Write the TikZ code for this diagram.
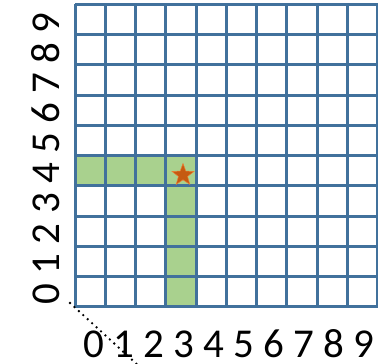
\documentclass[tikz,border=0pt]{standalone}
\usepackage{fontspec}
\setmainfont{Carlito}
\usetikzlibrary{shapes.geometric}
\definecolor{gridblue}{HTML}{41719C}
\definecolor{cellgreen}{HTML}{A9D18E}
\definecolor{starorange}{HTML}{C55A11}
\definecolor{starlight}{HTML}{ED7D31}
\tikzset{
  gridline/.style={draw=gridblue, line width=3pt},
  greencell/.style={fill=cellgreen},
  axislabel/.style={inner sep=0pt, font=\fontsize{41}{41}\selectfont},
  dotline/.style={line width=2.6pt, line cap=round, dash pattern=on 0pt off 6pt, black},
}
\begin{document}
\begin{tikzpicture}[x=1pt,y=1pt]
\useasboundingbox (0,0) rectangle (378,364);
\def\c{30.25}
% green cells
\fill[greencell] (75,{57+4*\c}) rectangle ({75+4*\c},{57+5*\c});
\fill[greencell] ({75+3*\c},57) rectangle ({75+4*\c},{57+5*\c});
% grid
\foreach \i in {0,...,10} {
  \draw[gridline] ({75+\i*\c},57) -- ({75+\i*\c},{57+10*\c});
  \draw[gridline] (75,{57+\i*\c}) -- ({75+10*\c},{57+\i*\c});
}
% star
\node[star, star points=5, star point ratio=2.4, minimum size=23pt, inner sep=0pt,
      fill=starorange, draw=starlight, line width=0.5pt] (mark) at (183,189) {};
% labels
\node[axislabel, anchor=base] (xlab) at (229,6.5) {0 1 2 3 4 5 6 7 8 9};
\node[axislabel, rotate=90, anchor=base] (ylab) at (59,205.5) {0 1 2 3 4 5 6 7 8 9};
% dotted diagonal
\coordinate (dstart) at (70,61);
\coordinate (dend) at (141,-4);
\begin{scope}
\clip (0,0) rectangle (378,364);
\draw[dotline] (dstart) -- (dend);
\end{scope}
\end{tikzpicture}
\end{document}
